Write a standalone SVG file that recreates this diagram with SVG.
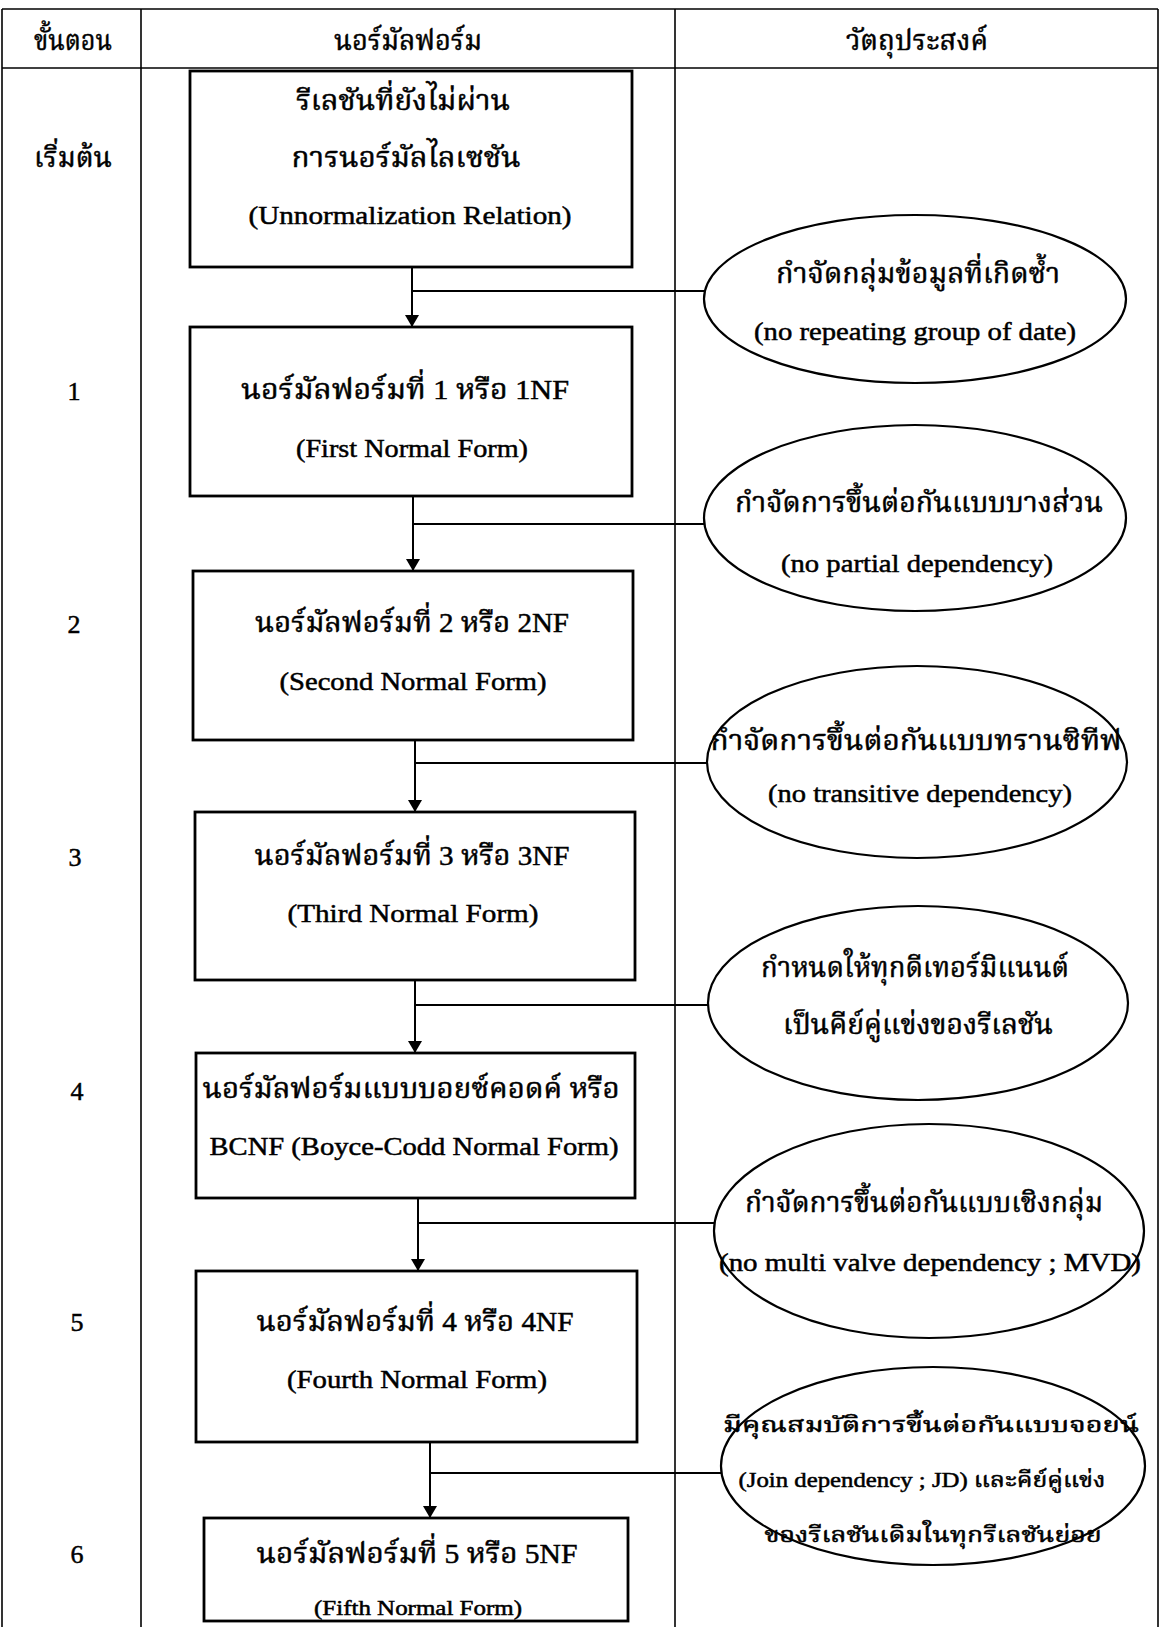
<svg xmlns="http://www.w3.org/2000/svg" width="1160" height="1627" viewBox="0 0 1160 1627">
  <style>
    .grid { stroke: #000; stroke-width: 1.6; fill: none; }
    .box { stroke: #000; stroke-width: 2.8; fill: #fff; }
    .oval { stroke: #000; stroke-width: 2.2; fill: #fff; }
    .wire { stroke: #000; stroke-width: 2; fill: none; }
    text { font-family: "Liberation Serif", "Noto Serif Thai", "Noto Sans Thai", "Tlwg Typo", "Loma", serif; fill: #000; stroke: #000; stroke-width: 0.5; text-anchor: middle; }
    .hd { font-size: 28px; }
    .th { font-size: 28px; }
    .en { font-size: 26px; }
    .sm { font-size: 21px; }
  </style>
  <defs>
    <marker id="arrow" viewBox="0 0 12 16" refX="12" refY="8" markerWidth="12" markerHeight="16" markerUnits="userSpaceOnUse" orient="auto">
      <path d="M0,1 L12,8 L0,15 Z" fill="#000"/>
    </marker>
  </defs>
  <rect width="1160" height="1627" fill="#fff"/>

  <!-- table frame -->
  <g id="table">
    <line class="grid" x1="2" y1="9" x2="1158" y2="9"/>
    <line class="grid" x1="2" y1="68" x2="1158" y2="68"/>
    <line class="grid" x1="2" y1="9" x2="2" y2="1627"/>
    <line class="grid" x1="141" y1="9" x2="141" y2="1627"/>
    <line class="grid" x1="675" y1="9" x2="675" y2="1627"/>
    <line class="grid" x1="1158" y1="9" x2="1158" y2="1627"/>
    <text class="hd" x="73" y="50" textLength="78" lengthAdjust="spacingAndGlyphs">ขั้นตอน</text>
    <text class="hd" x="408" y="50" textLength="148" lengthAdjust="spacingAndGlyphs">นอร์มัลฟอร์ม</text>
    <text class="hd" x="917" y="50" textLength="142" lengthAdjust="spacingAndGlyphs">วัตถุประสงค์</text>
  </g>

  <!-- step labels -->
  <g id="steps">
    <text class="th" x="73" y="167" textLength="78" lengthAdjust="spacingAndGlyphs">เริ่มต้น</text>
    <text class="en" x="74" y="400">1</text>
    <text class="en" x="74" y="633">2</text>
    <text class="en" x="75" y="866">3</text>
    <text class="en" x="77" y="1100">4</text>
    <text class="en" x="77" y="1331">5</text>
    <text class="en" x="77" y="1563">6</text>
  </g>

  <!-- connectors: downward flow plus a tie line to each objective -->
  <g id="connectors">
    <line class="wire" x1="412" y1="267" x2="412" y2="327" marker-end="url(#arrow)"/>
    <line class="wire" x1="412" y1="291" x2="708" y2="291"/>
    <line class="wire" x1="413" y1="496" x2="413" y2="571" marker-end="url(#arrow)"/>
    <line class="wire" x1="413" y1="524" x2="707" y2="524"/>
    <line class="wire" x1="415" y1="740" x2="415" y2="812" marker-end="url(#arrow)"/>
    <line class="wire" x1="415" y1="763" x2="710" y2="763"/>
    <line class="wire" x1="415" y1="980" x2="415" y2="1053" marker-end="url(#arrow)"/>
    <line class="wire" x1="415" y1="1005" x2="711" y2="1005"/>
    <line class="wire" x1="418" y1="1198" x2="418" y2="1271" marker-end="url(#arrow)"/>
    <line class="wire" x1="418" y1="1223" x2="718" y2="1223"/>
    <line class="wire" x1="430" y1="1442" x2="430" y2="1518" marker-end="url(#arrow)"/>
    <line class="wire" x1="430" y1="1473" x2="725" y2="1473"/>
  </g>

  <!-- normal form boxes -->
  <g id="nf0">
    <rect class="box" x="190" y="71" width="442" height="196"/>
    <text class="th" x="403" y="110" textLength="214" lengthAdjust="spacingAndGlyphs">รีเลชันที่ยังไม่ผ่าน</text>
    <text class="th" x="406" y="167" textLength="229" lengthAdjust="spacingAndGlyphs">การนอร์มัลไลเซชัน</text>
    <text class="en" x="410" y="224" textLength="323" lengthAdjust="spacingAndGlyphs">(Unnormalization Relation)</text>
  </g>
  <g id="nf1">
    <rect class="box" x="190" y="327" width="442" height="169"/>
    <text class="th" x="405" y="399" textLength="328" lengthAdjust="spacingAndGlyphs">นอร์มัลฟอร์มที่ 1 หรือ 1NF</text>
    <text class="en" x="412" y="457" textLength="232" lengthAdjust="spacingAndGlyphs">(First Normal Form)</text>
  </g>
  <g id="nf2">
    <rect class="box" x="193" y="571" width="440" height="169"/>
    <text class="th" x="412" y="632" textLength="314" lengthAdjust="spacingAndGlyphs">นอร์มัลฟอร์มที่ 2 หรือ 2NF</text>
    <text class="en" x="413" y="690" textLength="267" lengthAdjust="spacingAndGlyphs">(Second Normal Form)</text>
  </g>
  <g id="nf3">
    <rect class="box" x="195" y="812" width="440" height="168"/>
    <text class="th" x="412" y="865" textLength="315" lengthAdjust="spacingAndGlyphs">นอร์มัลฟอร์มที่ 3 หรือ 3NF</text>
    <text class="en" x="413" y="922" textLength="251" lengthAdjust="spacingAndGlyphs">(Third Normal Form)</text>
  </g>
  <g id="bcnf">
    <rect class="box" x="196" y="1053" width="439" height="145"/>
    <text class="th" x="411" y="1098" textLength="417" lengthAdjust="spacingAndGlyphs">นอร์มัลฟอร์มแบบบอยซ์คอดค์ หรือ</text>
    <text class="en" x="414" y="1155" textLength="409" lengthAdjust="spacingAndGlyphs">BCNF (Boyce-Codd Normal Form)</text>
  </g>
  <g id="nf4">
    <rect class="box" x="196" y="1271" width="441" height="171"/>
    <text class="th" x="415" y="1331" textLength="317" lengthAdjust="spacingAndGlyphs">นอร์มัลฟอร์มที่ 4 หรือ 4NF</text>
    <text class="en" x="417" y="1388" textLength="260" lengthAdjust="spacingAndGlyphs">(Fourth Normal Form)</text>
  </g>
  <g id="nf5">
    <rect class="box" x="204" y="1518" width="424" height="103"/>
    <text class="th" x="417" y="1563" textLength="321" lengthAdjust="spacingAndGlyphs">นอร์มัลฟอร์มที่ 5 หรือ 5NF</text>
    <text class="sm" x="418" y="1615" textLength="208" lengthAdjust="spacingAndGlyphs">(Fifth Normal Form)</text>
  </g>

  <!-- objective ovals -->
  <g id="goal1">
    <ellipse class="oval" cx="915" cy="299" rx="211" ry="84"/>
    <text class="th" x="918" y="283" textLength="284" lengthAdjust="spacingAndGlyphs">กำจัดกลุ่มข้อมูลที่เกิดซ้ำ</text>
    <text class="en" x="915" y="340" textLength="322" lengthAdjust="spacingAndGlyphs">(no repeating group of date)</text>
  </g>
  <g id="goal2">
    <ellipse class="oval" cx="915" cy="518" rx="211" ry="93"/>
    <text class="th" x="919" y="512" textLength="368" lengthAdjust="spacingAndGlyphs">กำจัดการขึ้นต่อกันแบบบางส่วน</text>
    <text class="en" x="917" y="572" textLength="272" lengthAdjust="spacingAndGlyphs">(no partial dependency)</text>
  </g>
  <g id="goal3">
    <ellipse class="oval" cx="917" cy="762" rx="210" ry="96"/>
    <text class="th" x="916" y="750" textLength="411" lengthAdjust="spacingAndGlyphs">กำจัดการขึ้นต่อกันแบบทรานซิทีฟ</text>
    <text class="en" x="920" y="802" textLength="304" lengthAdjust="spacingAndGlyphs">(no transitive dependency)</text>
  </g>
  <g id="goal4">
    <ellipse class="oval" cx="918" cy="1003" rx="210" ry="97"/>
    <text class="th" x="915" y="977" textLength="308" lengthAdjust="spacingAndGlyphs">กำหนดให้ทุกดีเทอร์มิแนนต์</text>
    <text class="th" x="918" y="1034" textLength="270" lengthAdjust="spacingAndGlyphs">เป็นคีย์คู่แข่งของรีเลชัน</text>
  </g>
  <g id="goal5">
    <ellipse class="oval" cx="929" cy="1231" rx="215" ry="107"/>
    <text class="th" x="924" y="1212" textLength="358" lengthAdjust="spacingAndGlyphs">กำจัดการขึ้นต่อกันแบบเชิงกลุ่ม</text>
    <text class="en" x="930" y="1271" textLength="422" lengthAdjust="spacingAndGlyphs">(no multi valve dependency ; MVD)</text>
  </g>
  <g id="goal6">
    <ellipse class="oval" cx="933" cy="1466" rx="212" ry="99"/>
    <text class="sm" x="931" y="1432" textLength="416" lengthAdjust="spacingAndGlyphs">มีคุณสมบัติการขึ้นต่อกันแบบจอยน์</text>
    <text class="sm" x="922" y="1487" textLength="367" lengthAdjust="spacingAndGlyphs">(Join dependency ; JD) และคีย์คู่แข่ง</text>
    <text class="sm" x="933" y="1542" textLength="337" lengthAdjust="spacingAndGlyphs">ของรีเลชันเดิมในทุกรีเลชันย่อย</text>
  </g>
</svg>
